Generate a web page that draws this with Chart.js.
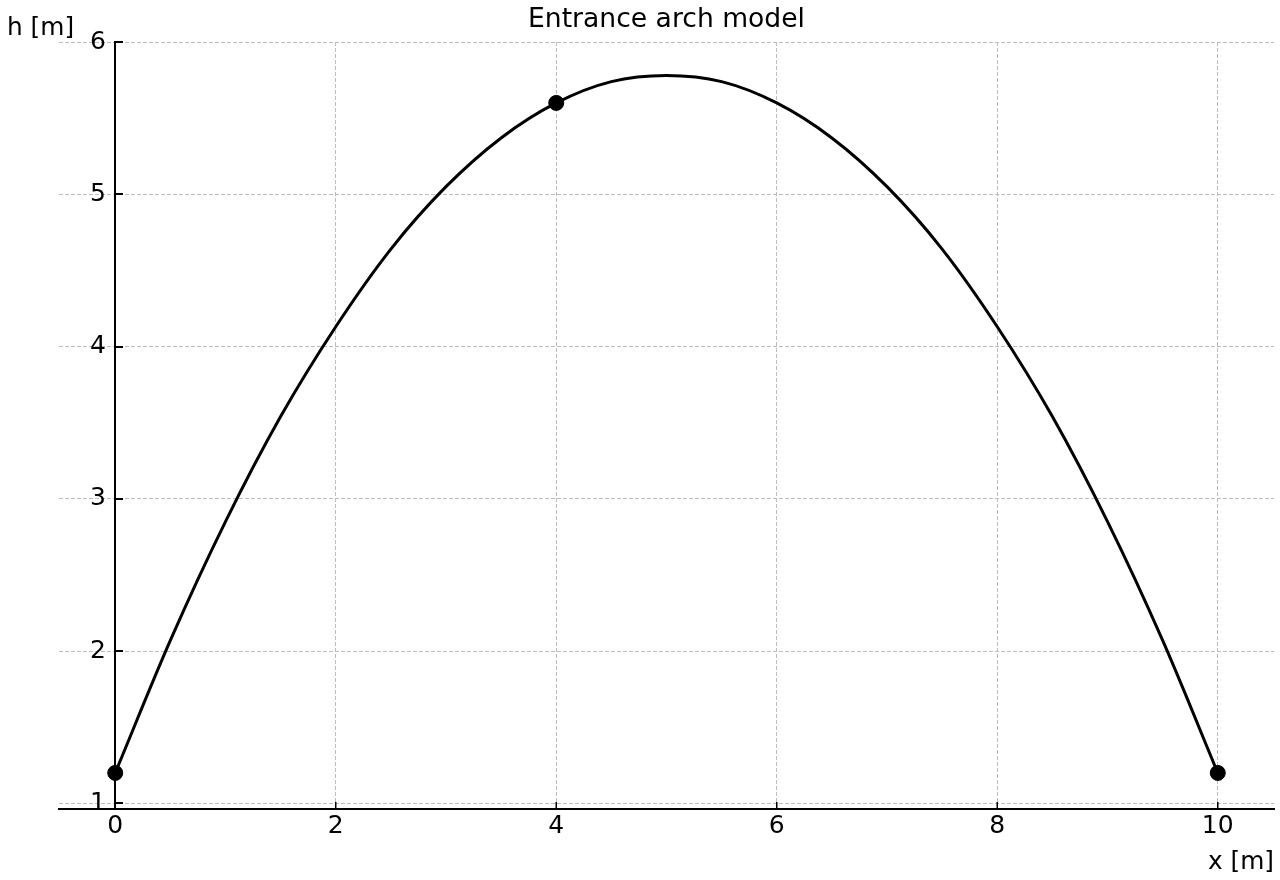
<!DOCTYPE html>
<html>
<head>
<meta charset="utf-8">
<script src="https://cdn.jsdelivr.net/npm/chart.js@4"></script>
<style>
  html, body { margin: 0; padding: 0; background: #fff; overflow: hidden; }
  #wrap { width: 1280px; height: 880px; }
</style>
</head>
<body>
<div id="wrap"><canvas id="arch"></canvas></div>
<script>
// curve, every 0.5 m
const xValues = [0, 0.5, 1, 1.5, 2, 2.5, 3, 3.5, 4, 4.5, 5, 5.5, 6, 6.5, 7, 7.5, 8, 8.5, 9, 9.5, 10]
const hValues = [1.2, 2.07, 2.85, 3.54, 4.13, 4.64, 5.05, 5.37, 5.6, 5.74, 5.78, 5.74, 5.6, 5.37, 5.05, 4.64, 4.13, 3.54, 2.85, 2.07, 1.2]

// measured points
const markerX = [0, 4, 10]
const markerH = [1.2, 5.6, 1.2]

// ticks
const xTicks = [0, 2, 4, 6, 8, 10]
const hTicks = [1, 2, 3, 4, 5, 6]

const titleText = 'Entrance arch model'
const xLabel = 'x [m]'
const hLabel = 'h [m]'

Chart.defaults.font.family = 'DejaVu Sans'
Chart.defaults.color = '#000'

const gridColor = '#bdbdbd'

//left spine at x=0, inward tick marks, texts
const extras = {
    id: 'extras',
    beforeDatasetsDraw(chart) {
        const {ctx, chartArea, scales: {x, y}} = chart
        const x0 = Math.round(x.getPixelForValue(0))
        ctx.save()
        ctx.strokeStyle = '#000'
        ctx.lineWidth = 2
        ctx.beginPath()
        ctx.moveTo(x0, chartArea.top - 1)
        ctx.lineTo(x0, chartArea.bottom)
        hTicks.forEach(v => {
            const py = Math.round(y.getPixelForValue(v))
            ctx.moveTo(x0, py)
            ctx.lineTo(x0 + 8, py)
        })
        ctx.stroke()
        ctx.lineWidth = 1.5
        ctx.beginPath()
        xTicks.forEach(v => {
            const px = x.getPixelForValue(v)
            ctx.moveTo(px, chartArea.bottom)
            ctx.lineTo(px, chartArea.bottom - 7)
        })
        ctx.stroke()
        ctx.restore()
    },
    afterDraw(chart) {
        const {ctx, chartArea} = chart
        ctx.save()
        ctx.fillStyle = '#000'
        ctx.font = '26.6px "DejaVu Sans"'
        ctx.textAlign = 'center'
        ctx.textBaseline = 'alphabetic'
        ctx.fillText(titleText, (chartArea.left + chartArea.right) / 2, 27)
        ctx.font = '24.8px "DejaVu Sans"'
        ctx.textAlign = 'left'
        ctx.fillText(hLabel, 7, 35)
        ctx.textAlign = 'right'
        ctx.fillText(xLabel, chartArea.right, 869)
        ctx.restore()
    }
}

const chart = new Chart(document.getElementById('arch'), {
    type: 'line',
    data: {
        datasets: [{
            label: 'arch',
            data: xValues.map((v, i) => ({x: v, y: hValues[i]})),
            borderColor: '#000',
            borderWidth: 3,
            pointRadius: 0,
            cubicInterpolationMode: 'monotone',
            fill: false
        }, {
            label: 'points',
            type: 'scatter',
            data: markerX.map((v, i) => ({x: v, y: markerH[i]})),
            backgroundColor: '#000',
            borderColor: '#000',
            pointRadius: 7.5,
            showLine: false
        }]
    },
    options: {
        responsive: true,
        maintainAspectRatio: false,
        animation: false,
        layout: {autoPadding: false, padding: {left: 59, right: 6, top: 42, bottom: 71}},
        plugins: {legend: {display: false}, title: {display: false}, tooltip: {enabled: false}},
        scales: {
            x: {
                type: 'linear',
                min: -0.51,
                max: 10.51,
                position: {y: 0.963},
                afterBuildTicks: s => { s.ticks = xTicks.map(v => ({value: v})) },
                // don't let the "10" label shrink the plot area
                afterFit: s => { s.paddingLeft = 0; s.paddingRight = 0 },
                ticks: {font: {size: 25}, color: '#000', padding: 0},
                grid: {color: gridColor, lineWidth: 1, drawTicks: true, tickLength: 2.5, tickColor: 'rgba(0,0,0,0)'},
                border: {display: true, color: '#000', width: 2, dash: [4, 2]}
            },
            y: {
                type: 'linear',
                min: 0.963,
                max: 6,
                // labels sit a little left of the x=0 spine
                position: {x: -0.085},
                afterBuildTicks: s => { s.ticks = hTicks.map(v => ({value: v})) },
                afterFit: s => { s.paddingTop = 0; s.paddingBottom = 0 },
                ticks: {font: {size: 25}, color: '#000', padding: 0},
                grid: {color: gridColor, lineWidth: 1, drawTicks: false},
                border: {display: false, dash: [4, 2]}
            }
        }
    },
    plugins: [extras]
})
</script>
</body>
</html>
